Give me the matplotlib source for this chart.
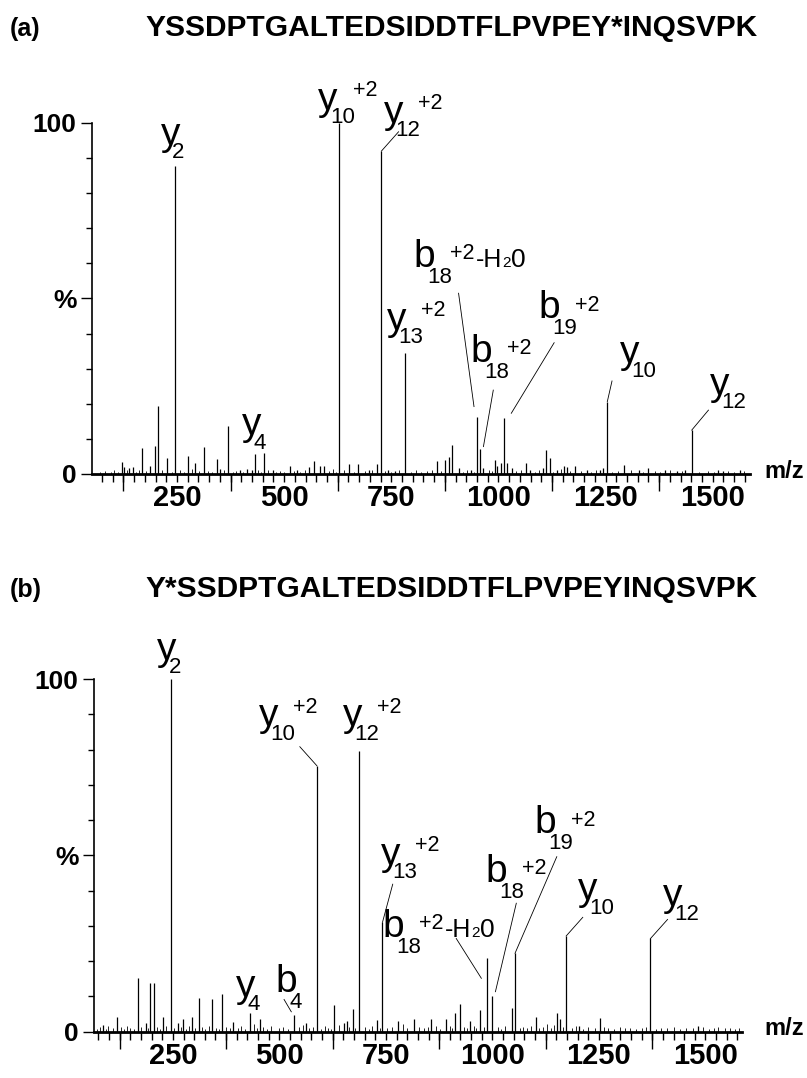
import matplotlib
matplotlib.use("Agg")
import matplotlib.pyplot as plt
from matplotlib.ticker import MultipleLocator

plt.rcParams['font.family'] = ['Liberation Sans', 'DejaVu Sans']

# ---------- panel (a) ----------
title_a = "YSSDPTGALTEDSIDDTFLPVPEY*INQSVPK"
peaks_a_mz = [121, 127, 138, 147, 169, 187, 198, 205, 227, 246, 275, 293, 312, 344, 351, 368, 397, 413, 425, 432,
              454, 473, 514, 530, 559, 570, 583, 593, 629, 652, 673, 697, 716, 727, 743, 759, 782, 856, 876, 885,
              892, 907, 936, 949, 957, 965, 992, 996, 1006, 1014, 1021, 1031, 1064, 1074, 1103, 1112, 1120, 1136,
              1154, 1160, 1179, 1206, 1237, 1245, 1254, 1293, 1327, 1350, 1389, 1416, 1436, 1451, 1513, 1525, 1564]
peaks_a_int = [3.5, 2.0, 1.8, 2.0, 7.3, 2.3, 8.1, 19.5, 4.5, 87.7, 5.1, 3.2, 7.8, 4.2, 1.3, 13.7, 1.0, 1.3, 1.0, 5.6,
               6.1, 1.0, 2.3, 1.2, 1.9, 3.7, 2.3, 2.3, 100, 2.8, 2.8, 1.0, 2.8, 92, 1.2, 0.8, 34.4, 3.6, 4.0, 4.7,
               8.3, 1.6, 1.0, 16.3, 7.2, 1.6, 4.0, 2.2, 3.0, 16.0, 3.0, 1.6, 3.2, 1.0, 1.6, 6.8, 4.5, 1.0,
               2.3, 2.0, 2.3, 1.0, 1.2, 1.6, 20.6, 2.6, 1.0, 1.6, 1.0, 0.8, 1.0, 12.5, 1.1, 0.8, 1.0]
noise_a_mz = [70, 82, 95, 104, 112, 133, 155, 162, 178, 215, 238, 258, 266, 284, 302, 322, 331, 360, 380, 388,
              405, 440, 447, 462, 480, 490, 500, 522, 538, 548, 604, 615, 622, 640, 664, 688, 705, 735, 750, 768,
              795, 808, 820, 834, 846, 866, 918, 926, 942, 978, 984, 1040, 1052, 1085, 1094, 1128, 1145, 1168,
              1192, 1215, 1228, 1265, 1278, 1310, 1338, 1366, 1378, 1400, 1428, 1468, 1490, 1502, 1535, 1550, 1572]
noise_a_int = [0.6, 0.9, 0.5, 1.1, 0.7, 1.2, 0.6, 1.0, 0.8, 1.2, 0.7, 1.0, 0.6, 1.3, 0.8, 0.9, 0.5, 1.1, 0.7, 0.9,
               0.6, 1.0, 0.7, 1.2, 0.5, 0.8, 0.6, 0.9, 0.7, 1.1, 0.8, 1.3, 0.6, 1.0, 0.7, 0.9, 1.2, 0.8, 0.6, 1.0,
               0.7, 1.1, 0.6, 0.9, 1.2, 0.8, 0.7, 1.0, 0.6, 1.1, 0.8, 0.9, 1.2, 0.7, 1.0, 0.6, 1.3, 0.8,
               0.9, 0.7, 1.0, 0.6, 0.8, 1.1, 0.7, 0.9, 0.6, 1.0, 0.8, 0.7, 0.9, 0.6, 0.8, 0.7, 0.9]

# ---------- panel (b) ----------
title_b = "Y*SSDPTGALTEDSIDDTFLPVPEYINQSVPK"
peaks_b_mz = [86, 120, 169, 186, 196, 205, 227, 245, 261, 274, 294, 311, 343, 366, 391, 431, 454, 534, 562, 588,
              628, 652, 658, 672, 686, 728, 742, 778, 815, 856, 891, 913, 924, 948, 971, 988, 1000, 1045, 1054, 1103,
              1152, 1159, 1173, 1202, 1253, 1370, 1483]
peaks_b_int = [1.8, 4.0, 15.1, 2.4, 13.7, 13.7, 4.2, 100, 2.4, 3.5, 4.0, 9.4, 9.1, 10.6, 2.8, 5.4, 3.5, 4.7, 2.4, 75.4,
               7.5, 2.3, 3.0, 6.3, 79.6, 3.3, 31.0, 3.0, 3.5, 3.6, 3.6, 5.3, 7.7, 3.1, 6.2, 20.8, 10.0, 6.6, 22.2, 4.0,
               5.4, 3.5, 27.1, 1.6, 3.7, 26.4, 1.6]
noise_b_mz = [72, 80, 92, 98, 110, 128, 135, 142, 150, 158, 176, 192, 212, 220, 233, 252, 268, 282, 288, 302,
              318, 326, 335, 352, 358, 375, 384, 402, 410, 420, 440, 448, 462, 470, 480, 500, 508, 520, 545, 555,
              570, 578, 598, 606, 615, 620, 640, 664, 678, 700, 710, 718, 735, 752, 765, 790, 800, 828, 840, 848,
              868, 878, 900, 905, 934, 940, 956, 962, 980, 1012, 1020, 1030, 1064, 1072, 1082, 1090, 1110, 1118,
              1128, 1138, 1145, 1166, 1186, 1195, 1212, 1225, 1240, 1262, 1272, 1285, 1300, 1312, 1322, 1338,
              1350, 1360, 1385, 1395, 1410, 1425, 1440, 1455, 1470, 1495, 1508, 1520, 1530, 1545, 1558, 1570, 1578]
noise_b_int = [0.8, 1.2, 0.7, 1.5, 0.9, 1.3, 0.8, 1.6, 1.0, 0.7, 1.4, 0.9, 1.2, 0.8, 1.7, 1.0, 1.3, 0.7, 1.5, 0.9,
               1.2, 0.8, 1.6, 1.0, 0.7, 1.4, 0.9, 1.1, 1.6, 0.8, 2.0, 1.0, 1.3, 0.7, 1.5, 0.9, 1.2, 0.8, 1.4, 1.8,
               1.0, 1.3, 0.8, 1.5, 1.1, 0.7, 1.9, 1.2, 1.0, 1.4, 0.8, 1.6, 1.1, 0.9, 1.3, 2.0, 1.0, 1.4, 0.9, 1.2,
               1.6, 0.8, 1.5, 1.1, 1.3, 0.9, 1.7, 1.0, 1.4, 1.2, 0.8, 1.5, 1.0, 1.3, 0.9, 1.6, 1.1, 1.4,
               2.2, 1.0, 1.8, 1.3, 1.0, 1.5, 0.8, 1.2, 0.9, 1.4, 1.0, 0.8, 1.2, 0.9, 1.1, 0.8,
               1.0, 1.3, 0.8, 1.1, 0.9, 1.2, 0.8, 1.0, 0.9, 1.2, 0.8, 1.0, 1.3, 0.9, 1.1, 0.8, 1.0]

# ion labels: (letter, subscript, superscript, label m/z, label %)
labels_a = [('y', '2', '', 212, 93.8), ('y', '10', '+2', 580, 103.8), ('y', '12', '+2', 732, 100),
            ('y', '13', '+2', 740, 41.1), ('b', '18', '+2', 802, 59.0), ('b', '18', '+2', 934, 32.0),
            ('b', '19', '+2', 1093, 44.4), ('y', '10', '', 1284, 31.5), ('y', '12', '', 1494, 22.5),
            ('y', '4', '', 401, 11.1)]
water_a = 4  # index of the b18 -H2O label
leaders_a = [((767, 97.5), (727, 92)), ((907, 51.5), (943, 19.2)), ((988, 23.9), (965, 7.8)),
             ((1130, 37.4), (1030, 17.3)), ((1265, 26.5), (1254, 20.6)), ((1490, 18.2), (1451, 12.5))]

labels_b = [('y', '2', '', 213, 105.5), ('y', '10', '+2', 452, 86.6), ('y', '12', '+2', 650, 86.6),
            ('y', '13', '+2', 739, 47.3), ('b', '18', '+2', 742, 26.9), ('b', '18', '+2', 984, 42.5),
            ('b', '19', '+2', 1099, 56.2), ('y', '10', '', 1201, 37.3), ('y', '12', '', 1401, 35.5),
            ('y', '4', '', 398, 9.9), ('b', '4', '', 492, 11.3)]
water_b = 4
leaders_b = [((548, 80.8), (588, 75.4)), ((766, 41.8), (742, 31.0)), ((915, 26.4), (974, 15.1)),
             ((1056, 36.4), (1007, 11.3)), ((1151, 49.6), (1053, 22.2)), ((1212, 32.4), (1173, 27.1)),
             ((1411, 31.8), (1371, 26.4)), ((511, 9.1), (528, 5.6))]


def ion_label(ax, letter, sub, sup, x, y, water=False):
    ax.text(x, y, letter, fontsize=28, ha='left', va='baseline', clip_on=False)
    if letter == 'y':
        dx, dy_sub, dy_sup = 8.2, -9.7, 9.8
    else:
        dx, dy_sub, dy_sup = 9.8, -11.5, 5.5
    ts = ax.annotate(sub, xy=(x, y), xytext=(dx, dy_sub), textcoords='offset points',
                     fontsize=16, va='baseline', annotation_clip=False)
    last = ts
    if sup:
        last = ax.annotate(sup, xy=(1, y), xycoords=(ts, 'data'), xytext=(-1.5, dy_sup),
                           textcoords='offset points', fontsize=15.5, va='baseline', annotation_clip=False)
    if water:
        t = ax.annotate('-H', xy=(1, y), xycoords=(last, 'data'), xytext=(1, 0),
                        textcoords='offset points', fontsize=18, va='baseline', annotation_clip=False)
        t = ax.annotate('2', xy=(1, y), xycoords=(t, 'data'), xytext=(0, 0),
                        textcoords='offset points', fontsize=11, va='baseline', annotation_clip=False)
        ax.annotate('0', xy=(1, y), xycoords=(t, 'data'), xytext=(0, 0),
                    textcoords='offset points', fontsize=19, va='baseline', annotation_clip=False)


def draw_panel(ax, mz, inten, nmz, nint, labels, water_idx, leaders, xlim):
    ax.vlines(nmz, 0, nint, color='black', lw=0.6)
    ax.vlines(mz, 0, inten, color='black', lw=0.9)
    ax.set_xlim(*xlim)
    ax.set_ylim(0, 100)
    for s in ['top', 'right']:
        ax.spines[s].set_visible(False)
    ax.spines['left'].set_linewidth(1.2)
    ax.spines['bottom'].set_linewidth(2.0)

    ax.set_yticks([0, 50, 100], labels=['0', '%', '100'])
    ax.yaxis.set_minor_locator(MultipleLocator(10))
    ax.tick_params(axis='y', which='major', length=8, width=1, pad=3, labelsize=19)
    ax.tick_params(axis='y', which='minor', length=4.5, width=1)
    for lab in ax.get_yticklabels():
        lab.set_fontweight('bold')

    ax.set_xticks([250, 500, 750, 1000, 1250, 1500])
    ax.xaxis.set_minor_locator(MultipleLocator(25))
    ax.tick_params(axis='x', which='both', length=6, width=1, pad=1.5, labelsize=21)
    for lab in ax.get_xticklabels():
        lab.set_fontweight('bold')
    sec = ax.secondary_xaxis('bottom')
    sec.set_xticks([125, 375, 625, 875, 1125, 1375], labels=[])
    sec.tick_params(axis='x', length=12, width=1)
    sec.spines['bottom'].set_visible(False)

    # m/z label ends at the right edge of the figure
    ax.annotate('m/z', xy=(1, 0), xycoords=('figure fraction', 'axes fraction'), xytext=(-2, 2),
                textcoords='offset points', fontsize=17, fontweight='bold',
                ha='right', va='center', annotation_clip=False)

    for i, (letter, sub, sup, x, y) in enumerate(labels):
        ion_label(ax, letter, sub, sup, x, y, water=(i == water_idx))
    for (x0, y0), (x1, y1) in leaders:
        ax.plot([x0, x1], [y0, y1], color='black', lw=0.6, clip_on=False)


fig = plt.figure(figsize=(8.07, 10.78), dpi=100)
ax_a = fig.add_axes([0.1136, 0.5603, 0.8158, 0.3256])
ax_b = fig.add_axes([0.1165, 0.0431, 0.8026, 0.3270])

draw_panel(ax_a, peaks_a_mz, peaks_a_int, noise_a_mz, noise_a_int, labels_a, water_a, leaders_a, (51, 1587))
draw_panel(ax_b, peaks_b_mz, peaks_b_int, noise_b_mz, noise_b_int, labels_b, water_b, leaders_b, (65, 1585))

fig.text(0.012, 1 - 36 / 1078, '(a)', fontsize=18, fontweight='bold', va='baseline')
fig.text(0.559, 1 - 36 / 1078, title_a, fontsize=21.5, fontweight='bold', ha='center', va='baseline')
fig.text(0.012, 1 - 597 / 1078, '(b)', fontsize=18, fontweight='bold', va='baseline')
fig.text(0.559, 1 - 597 / 1078, title_b, fontsize=21.5, fontweight='bold', ha='center', va='baseline')

fig.savefig('out.png', dpi=100, facecolor='white')
